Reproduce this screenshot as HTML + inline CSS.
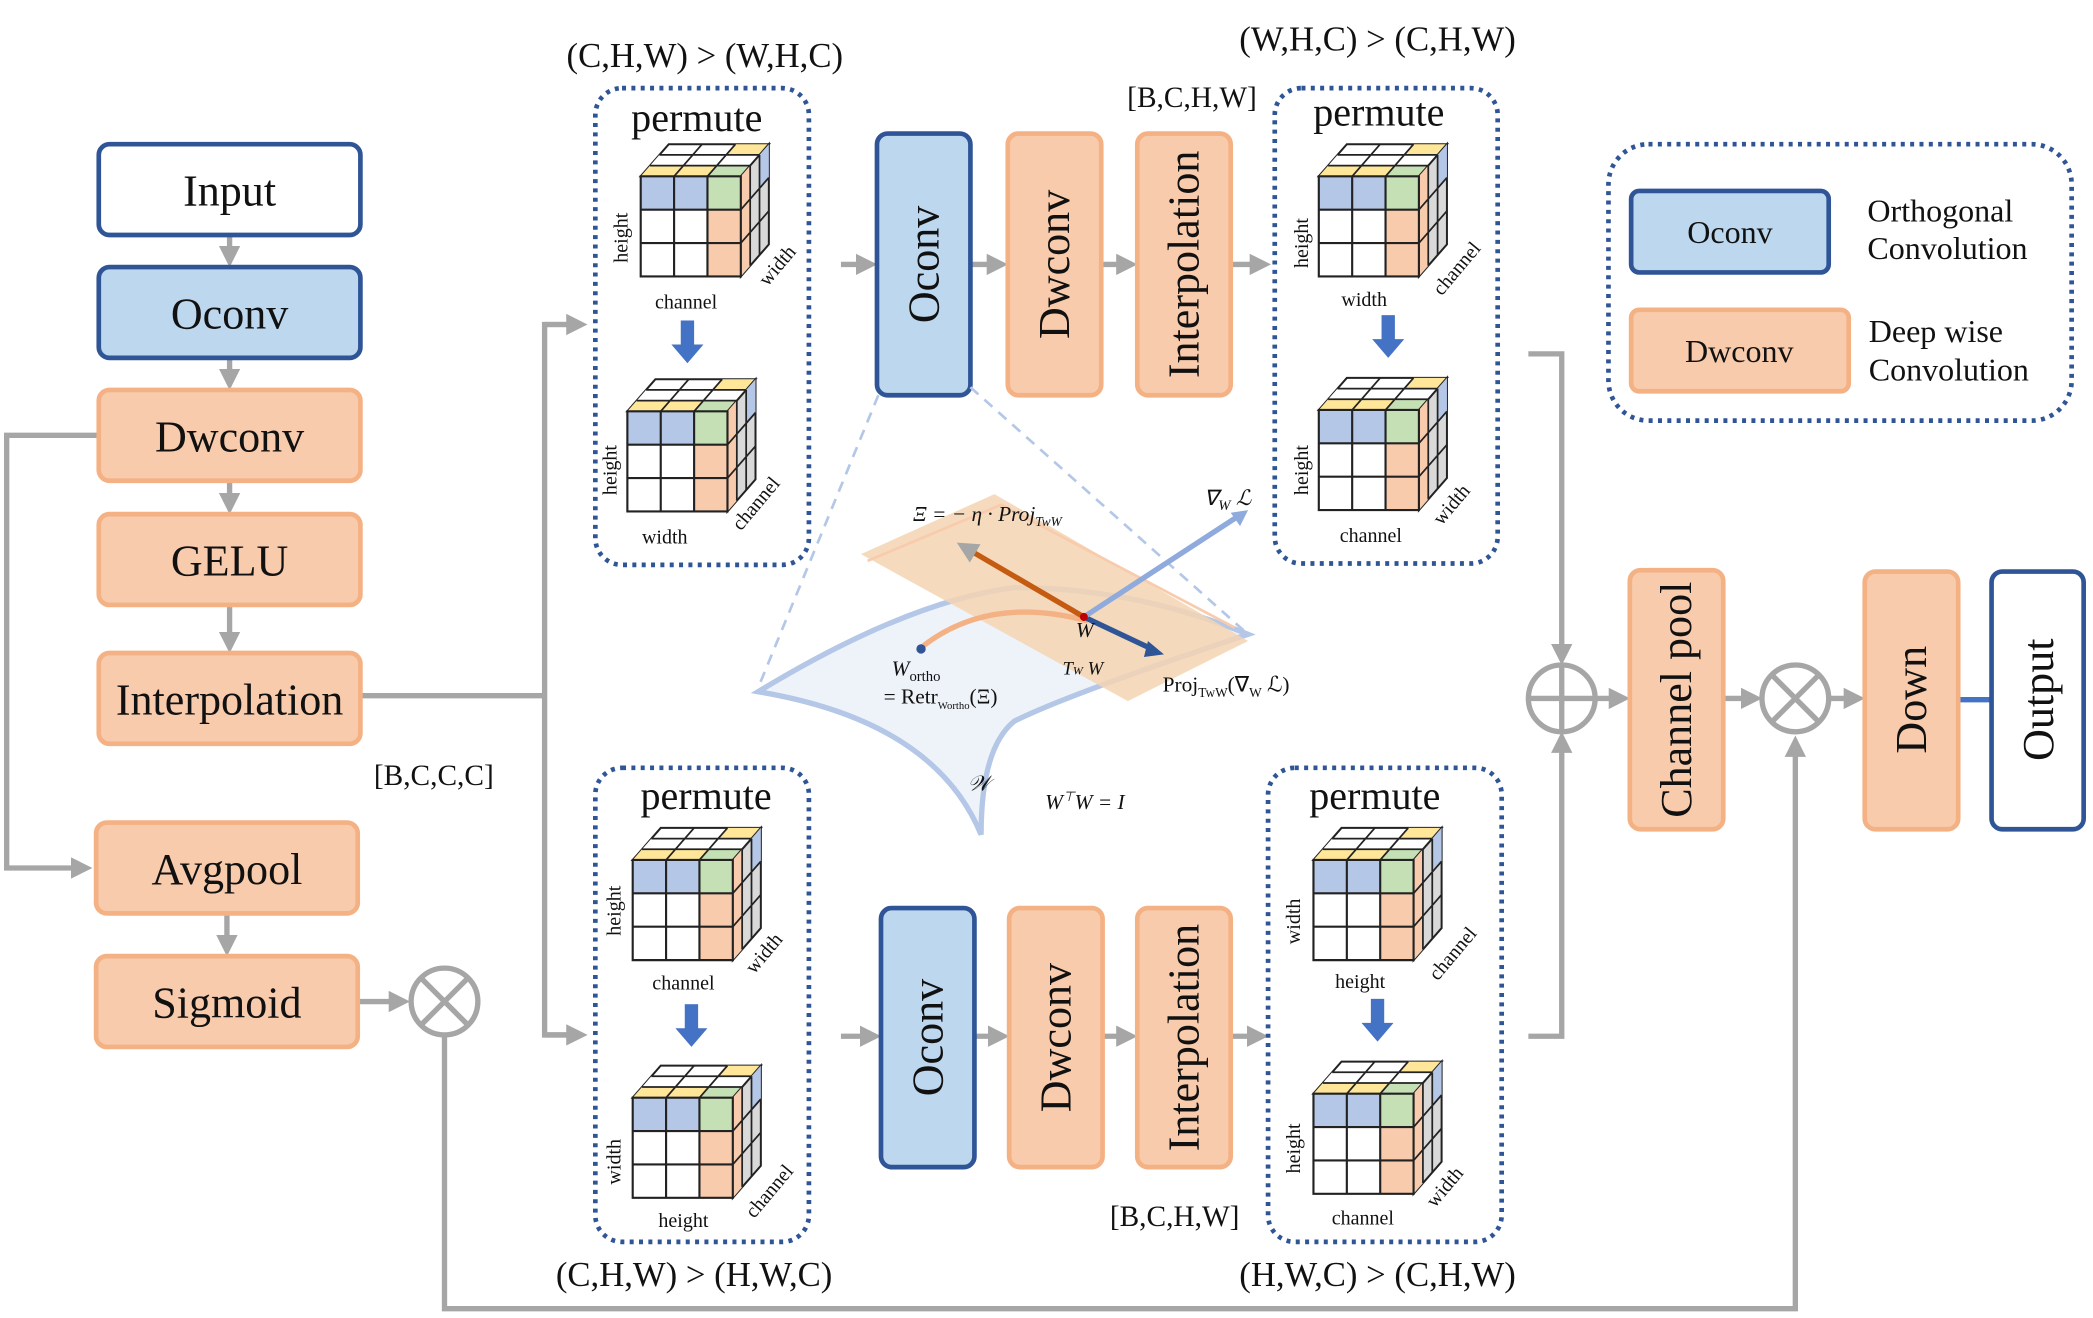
<!DOCTYPE html>
<html><head><meta charset="utf-8"><style>
html,body{margin:0;padding:0;background:#fff}
svg{display:block}
text{font-family:"Liberation Serif",serif;fill:#111}
</style></head><body>
<svg width="2093" height="1318" viewBox="0 0 1568 987" preserveAspectRatio="none" xmlns="http://www.w3.org/2000/svg">
<defs>
<marker id="ah" markerWidth="4" markerHeight="4" refX="2.2" refY="2" orient="auto" markerUnits="strokeWidth"><path d="M0,0 L4,2 L0,4 z" fill="#a6a6a6"/></marker>
<g id="cube">
 <path d="M0,24 L75,24 L96,0 L21,0 z" fill="#fff" stroke="#222" stroke-width="1.5"/>
 <path d="M0,24 L25,24 L32,16 L7,16 z" fill="#ffe699"/><path d="M25,24 L50,24 L57,16 L32,16 z" fill="#ffe699"/><path d="M50,24 L75,24 L82,16 L57,16 z" fill="#c5e0b4"/>
 <path d="M7,16 L82,16 L89,8 L14,8 z" fill="#fff"/><path d="M64,8 L89,8 L96,0 L71,0 z" fill="#ffe699"/>
 <path d="M7,16 L82,16 M14,8 L89,8 M25,24 L46,0 M50,24 L71,0" stroke="#222" stroke-width="1.3" fill="none"/>
 <path d="M75,24 L96,0 L96,75 L75,99 z" fill="#d9d9d9" stroke="#222" stroke-width="1.5"/>
 <path d="M75,24 L82,16 L82,91 L75,99 z" fill="#f8cbad"/><path d="M89,8 L96,0 L96,25 L89,33 z" fill="#b4c7e7"/>
 <path d="M82,16 L82,91 M89,8 L89,83 M75,49 L96,25 M75,74 L96,50" stroke="#222" stroke-width="1.3" fill="none"/>
 <rect x="0" y="24" width="75" height="75" fill="#fff"/>
 <rect x="0" y="24" width="25" height="25" fill="#b4c7e7"/><rect x="25" y="24" width="25" height="25" fill="#b4c7e7"/><rect x="50" y="24" width="25" height="25" fill="#c5e0b4"/>
 <rect x="50" y="49" width="25" height="50" fill="#f8cbad"/>
 <path d="M0,24 h75 v75 h-75 z M25,24 v75 M50,24 v75 M0,49 h75 M0,74 h75" stroke="#222" stroke-width="1.6" fill="none"/>
</g>
<g id="darr"><rect x="-5" y="0" width="10" height="20" fill="#4472c4"/><path d="M-12,18 L12,18 L0,32 z" fill="#4472c4"/></g>
</defs>

<g stroke="#a6a6a6" stroke-width="4" fill="none">
 <line x1="172" y1="177" x2="172" y2="193" marker-end="url(#ah)"/>
 <line x1="172" y1="269" x2="172" y2="285" marker-end="url(#ah)"/>
 <line x1="172" y1="361" x2="172" y2="378" marker-end="url(#ah)"/>
 <line x1="172" y1="454" x2="172" y2="482" marker-end="url(#ah)"/>
 <line x1="170" y1="685" x2="170" y2="709" marker-end="url(#ah)"/>
 <polyline points="74,326 5,326 5,650 62,650" marker-end="url(#ah)"/>
 <line x1="270" y1="521" x2="408" y2="521"/>
 <polyline points="432,243 408,243 408,775 432,775"/>
 <line x1="408" y1="243" x2="433" y2="243" marker-end="url(#ah)"/>
 <line x1="408" y1="775" x2="433" y2="775" marker-end="url(#ah)"/>
 <line x1="268" y1="750" x2="300" y2="750" marker-end="url(#ah)"/>
 <polyline points="333,775 333,980 1345,980 1345,558" marker-end="url(#ah)"/>
 <line x1="630" y1="198" x2="650" y2="198" marker-end="url(#ah)"/>
 <line x1="727" y1="198" x2="748" y2="198" marker-end="url(#ah)"/>
 <line x1="825" y1="198" x2="845" y2="198" marker-end="url(#ah)"/>
 <line x1="922" y1="198" x2="945" y2="198" marker-end="url(#ah)"/>
 <line x1="630" y1="776" x2="653" y2="776" marker-end="url(#ah)"/>
 <line x1="730" y1="776" x2="749" y2="776" marker-end="url(#ah)"/>
 <line x1="826" y1="776" x2="845" y2="776" marker-end="url(#ah)"/>
 <line x1="922" y1="776" x2="943" y2="776" marker-end="url(#ah)"/>
 <polyline points="1145,265 1170,265 1170,491" marker-end="url(#ah)"/>
 <polyline points="1145,776 1170,776 1170,555" marker-end="url(#ah)"/>
 <line x1="1195" y1="523" x2="1214" y2="523" marker-end="url(#ah)"/>
 <line x1="1291" y1="523" x2="1313" y2="523" marker-end="url(#ah)"/>
 <line x1="1370" y1="523" x2="1390" y2="523" marker-end="url(#ah)"/>
 <circle cx="333" cy="750" r="25"/><path d="M315,732 L351,768 M351,732 L315,768"/>
 <circle cx="1345" cy="523" r="25"/><path d="M1327,505 L1363,541 M1363,505 L1327,541"/>
 <circle cx="1170" cy="523" r="25"/><path d="M1145,523 L1195,523 M1170,498 L1170,548"/>
</g>
<line x1="1467" y1="524" x2="1492" y2="524" stroke="#4472c4" stroke-width="4"/>

<g stroke-width="3.5">
 <rect x="74" y="108" width="196" height="68" rx="8" fill="#fff" stroke="#2f5597"/>
 <rect x="74" y="200" width="196" height="68" rx="8" fill="#bdd7ee" stroke="#2f5597"/>
 <rect x="74" y="292" width="196" height="68" rx="8" fill="#f8cbad" stroke="#f4b183"/>
 <rect x="74" y="385" width="196" height="68" rx="8" fill="#f8cbad" stroke="#f4b183"/>
 <rect x="74" y="489" width="196" height="68" rx="8" fill="#f8cbad" stroke="#f4b183"/>
 <rect x="72" y="616" width="196" height="68" rx="8" fill="#f8cbad" stroke="#f4b183"/>
 <rect x="72" y="716" width="196" height="68" rx="8" fill="#f8cbad" stroke="#f4b183"/>
 <rect x="657" y="100" width="70" height="196" rx="8" fill="#bdd7ee" stroke="#2f5597"/>
 <rect x="755" y="100" width="70" height="196" rx="8" fill="#f8cbad" stroke="#f4b183"/>
 <rect x="852" y="100" width="70" height="196" rx="8" fill="#f8cbad" stroke="#f4b183"/>
 <rect x="660" y="680" width="70" height="194" rx="8" fill="#bdd7ee" stroke="#2f5597"/>
 <rect x="756" y="680" width="70" height="194" rx="8" fill="#f8cbad" stroke="#f4b183"/>
 <rect x="852" y="680" width="70" height="194" rx="8" fill="#f8cbad" stroke="#f4b183"/>
 <rect x="1221" y="427" width="70" height="194" rx="8" fill="#f8cbad" stroke="#f4b183"/>
 <rect x="1397" y="428" width="70" height="193" rx="8" fill="#f8cbad" stroke="#f4b183"/>
 <rect x="1492" y="428" width="69" height="193" rx="8" fill="#fff" stroke="#2f5597"/>
 <rect x="1222" y="143" width="148" height="61" rx="6" fill="#bdd7ee" stroke="#2f5597"/>
 <rect x="1222" y="232" width="163" height="61" rx="6" fill="#f8cbad" stroke="#f4b183"/>
</g>
<g font-size="33" text-anchor="middle">
 <text x="172" y="154">Input</text><text x="172" y="246">Oconv</text><text x="172" y="338">Dwconv</text>
 <text x="172" y="431">GELU</text><text x="172" y="535">Interpolation</text><text x="170" y="662">Avgpool</text><text x="170" y="762">Sigmoid</text>
</g>
<g font-size="33" text-anchor="middle">
 <text transform="translate(703,198) rotate(-90)">Oconv</text>
 <text transform="translate(801,198) rotate(-90)">Dwconv</text>
 <text transform="translate(898,198) rotate(-90)">Interpolation</text>
 <text transform="translate(706,777) rotate(-90)">Oconv</text>
 <text transform="translate(802,777) rotate(-90)">Dwconv</text>
 <text transform="translate(898,777) rotate(-90)">Interpolation</text>
 <text transform="translate(1267,524) rotate(-90)">Channel pool</text>
 <text transform="translate(1443,524) rotate(-90)">Down</text>
 <text transform="translate(1538,524) rotate(-90)">Output</text>
</g>
<g fill="none" stroke="#2f5597" stroke-width="3.5" stroke-dasharray="3,4">
 <rect x="446" y="66" width="160" height="357" rx="20"/>
 <rect x="955" y="66" width="167" height="356" rx="20"/>
 <rect x="446" y="575" width="160" height="355" rx="20"/>
 <rect x="950" y="575" width="175" height="355" rx="20"/>
 <rect x="1205" y="108" width="347" height="207" rx="30"/>
</g>
<g font-size="30" text-anchor="middle">
 <text x="522" y="98">permute</text><text x="1033" y="94">permute</text>
 <text x="529" y="606">permute</text><text x="1030" y="606">permute</text>
</g>
<g font-size="24">
 <text x="1296" y="182" text-anchor="middle">Oconv</text><text x="1303" y="271" text-anchor="middle">Dwconv</text>
 <text x="1399" y="166">Orthogonal</text><text x="1399" y="194">Convolution</text>
 <text x="1400" y="256">Deep wise</text><text x="1400" y="285">Convolution</text>
</g>
<g font-size="26" text-anchor="middle">
 <text x="528" y="50">(C,H,W) &gt; (W,H,C)</text>
 <text x="1032" y="38">(W,H,C) &gt; (C,H,W)</text>
 <text x="520" y="963">(C,H,W) &gt; (H,W,C)</text>
 <text x="1032" y="963">(H,W,C) &gt; (C,H,W)</text>
</g>
<g font-size="22" text-anchor="middle">
 <text x="893" y="80">[B,C,H,W]</text>
 <text x="880" y="918">[B,C,H,W]</text>
 <text x="325" y="588">[B,C,C,C]</text>
</g>
<use href="#cube" x="480" y="108"/><use href="#cube" x="470" y="284"/>
<use href="#cube" x="988" y="108"/><use href="#cube" x="988" y="283"/>
<use href="#cube" x="474" y="620"/><use href="#cube" x="474" y="798"/>
<use href="#cube" x="984" y="620"/><use href="#cube" x="984" y="795"/>
<use href="#darr" x="515" y="240"/><use href="#darr" x="1040" y="236"/>
<use href="#darr" x="518" y="752"/><use href="#darr" x="1032" y="748"/>
<g font-size="15">
 <text x="514" y="231" text-anchor="middle">channel</text><text transform="translate(470,178) rotate(-90)" text-anchor="middle">height</text><text transform="translate(575,215) rotate(-50)">width</text>
 <text x="498" y="407" text-anchor="middle">width</text><text transform="translate(462,352) rotate(-90)" text-anchor="middle">height</text><text transform="translate(555,398) rotate(-50)">channel</text>
 <text x="1022" y="229" text-anchor="middle">width</text><text transform="translate(980,182) rotate(-90)" text-anchor="middle">height</text><text transform="translate(1080,222) rotate(-50)">channel</text>
 <text x="1027" y="406" text-anchor="middle">channel</text><text transform="translate(980,352) rotate(-90)" text-anchor="middle">height</text><text transform="translate(1080,394) rotate(-50)">width</text>
 <text x="512" y="741" text-anchor="middle">channel</text><text transform="translate(465,682) rotate(-90)" text-anchor="middle">height</text><text transform="translate(565,730) rotate(-50)">width</text>
 <text x="512" y="919" text-anchor="middle">height</text><text transform="translate(465,870) rotate(-90)" text-anchor="middle">width</text><text transform="translate(565,913) rotate(-50)">channel</text>
 <text x="1019" y="740" text-anchor="middle">height</text><text transform="translate(974,690) rotate(-90)" text-anchor="middle">width</text><text transform="translate(1077,735) rotate(-50)">channel</text>
 <text x="1021" y="917" text-anchor="middle">channel</text><text transform="translate(974,860) rotate(-90)" text-anchor="middle">height</text><text transform="translate(1075,905) rotate(-50)">width</text>
</g>
<g fill="none" stroke="#b4c7e7" stroke-width="2" stroke-dasharray="8,6">
 <line x1="658" y1="296" x2="568" y2="515"/><line x1="727" y1="290" x2="935" y2="475"/>
</g>
<path d="M568,518 Q680,450 760,440 Q850,440 935,475 Q800,520 760,540 Q735,560 735,625 Q700,540 568,518 z" fill="#eef3fa" stroke="#b4c7e7" stroke-width="4"/>
<path d="M645,415 L745,370 L935,480 L845,525 z" fill="#f4d4b2" opacity="0.85"/>
<path d="M650,420 L750,378 L925,470" fill="none" stroke="#f8cbad" stroke-width="2"/>
<path d="M690,485 Q740,445 815,465" fill="none" stroke="#f4b183" stroke-width="4"/>
<line x1="812" y1="462" x2="723" y2="410" stroke="#c55a11" stroke-width="4" marker-end="url(#ah)"/>
<line x1="812" y1="462" x2="865" y2="487" stroke="#2f5597" stroke-width="4"/>
<path d="M860,480 L872,490 L857,492 z" fill="#2f5597"/>
<line x1="812" y1="462" x2="930" y2="385" stroke="#8faadc" stroke-width="4"/>
<path d="M922,384 L935,382 L929,394 z" fill="#8faadc"/>
<circle cx="690" cy="486" r="3.5" fill="#2f5597"/><circle cx="812" cy="462" r="3" fill="#c00000"/>
<g font-size="16" font-style="italic">
 <text x="684" y="390">Ξ = − η · Proj<tspan font-size="10" dy="4">TwW</tspan></text>
 <text x="902" y="378">∇<tspan font-size="11" dy="4">W</tspan><tspan dy="-4"> ℒ</tspan></text>
 <text x="806" y="477">W</text><text x="796" y="505" font-size="14">T<tspan font-size="9">W</tspan> W</text>
 <text x="668" y="506">W<tspan font-size="11" dy="4" font-style="normal">ortho</tspan></text>
 <text x="662" y="527" font-style="normal">= Retr<tspan font-size="8" dy="4">Wortho</tspan><tspan dy="-4">(Ξ)</tspan></text>
 <text x="871" y="518" font-style="normal">Proj<tspan font-size="10" dy="4">TwW</tspan><tspan dy="-4">(∇</tspan><tspan font-size="10" dy="4">W</tspan><tspan dy="-4"> ℒ)</tspan></text>
 <text x="725" y="592">𝒲</text>
 <text x="783" y="606">W<tspan font-size="10" dy="-6">⊤</tspan><tspan dy="6">W = I</tspan></text>
</g>
</svg>
</body></html>
